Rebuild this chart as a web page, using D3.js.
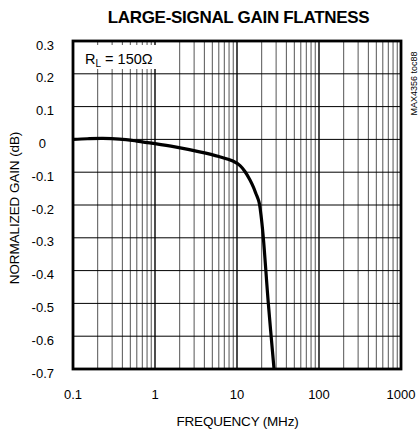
<!DOCTYPE html>
<html><head><meta charset="utf-8">
<script src="https://cdn.jsdelivr.net/npm/d3@7"></script>
<style>body{margin:0;background:#fff}svg{display:block;font-family:"Liberation Sans",Arial,sans-serif}</style>
</head><body><svg id="c" width="419" height="429"></svg>
<script>
const freqMHz = [0.1, 0.15, 0.23, 0.37, 0.6, 1, 1.75, 3.5, 6, 8.9, 10.9, 12.5, 14.4, 15.8, 17, 18.5, 19.6, 20.9, 24.1, 28.3];
const gainDb  = [0, 0.002, 0.003, 0.001, -0.005, -0.013, -0.023, -0.038, -0.052, -0.066, -0.08, -0.098, -0.124, -0.145, -0.165, -0.19, -0.23, -0.297, -0.5, -0.7];
const xTicks = [0.1, 1, 10, 100, 1000];
const xTickLabels = ["0.1", "1", "10", "100", "1000"];
const yTicks = [0.3, 0.2, 0.1, 0, -0.1, -0.2, -0.3, -0.4, -0.5, -0.6, -0.7];
const yTickLabels = ["0.3", "0.2", "0.1", "0", "-0.1", "-0.2", "-0.3", "-0.4", "-0.5", "-0.6", "-0.7"];

const svg = d3.select("#c");
const L = 73, R = 401, T = 41, B = 369;
const x = d3.scaleLog().domain([0.1, 1000]).range([L, R]);
const y = d3.scaleLinear().domain([-0.7, 0.3]).range([B, T]);

// minor vertical grid
const minors = [];
for (let d = 0.1; d < 1000; d *= 10) for (let k = 2; k <= 9; k++) minors.push(d * k);
svg.append("g").selectAll("line").data(minors).join("line")
  .attr("x1", d => x(d)).attr("x2", d => x(d)).attr("y1", T).attr("y2", B)
  .attr("stroke", "#555").attr("stroke-width", 1);
// major vertical grid
svg.append("g").selectAll("line").data(xTicks.slice(1, -1)).join("line")
  .attr("x1", d => x(d)).attr("x2", d => x(d)).attr("y1", T).attr("y2", B)
  .attr("stroke", "#000").attr("stroke-width", 1.4);
// horizontal grid
svg.append("g").selectAll("line").data(yTicks.slice(1, -1)).join("line")
  .attr("x1", L).attr("x2", R).attr("y1", d => y(d)).attr("y2", d => y(d))
  .attr("stroke", "#000").attr("stroke-width", 1);

// legend backdrop
svg.append("rect").attr("x", L + 1).attr("y", 45).attr("width", 85).attr("height", 24).attr("fill", "#fff");
const lg = svg.append("text").attr("x", 85).attr("y", 64).attr("font-size", 14.5).attr("fill", "#000");
lg.append("tspan").text("R");
lg.append("tspan").attr("font-size", 10).attr("dy", 3).text("L");
lg.append("tspan").attr("dy", -3).text(" = 150Ω");

// curve
const pts = freqMHz.map((f, i) => [f, gainDb[i]]);
svg.append("path").datum(pts)
  .attr("d", d3.line().x(d => x(d[0])).y(d => y(d[1])).curve(d3.curveCatmullRom.alpha(0.5)))
  .attr("fill", "none").attr("stroke", "#000").attr("stroke-width", 3.2).attr("stroke-linejoin", "round");

// border
svg.append("rect").attr("x", L).attr("y", T).attr("width", R - L).attr("height", B - T)
  .attr("fill", "none").attr("stroke", "#000").attr("stroke-width", 2.8);

// x tick labels
svg.append("g").selectAll("text").data(xTicks).join("text")
  .attr("x", d => x(d)).attr("y", 399).attr("text-anchor", "middle")
  .attr("font-size", 13).text((d, i) => xTickLabels[i]);
// y tick labels
svg.append("g").selectAll("text").data(yTicks).join("text")
  .attr("x", 54).attr("y", d => y(d) + 8.5).attr("text-anchor", "end")
  .attr("dx", (d, i) => yTickLabels[i] === "0" ? -8 : 0)
  .attr("font-size", 13).text((d, i) => yTickLabels[i]);

svg.append("text").attr("x", 238.5).attr("y", 23).attr("text-anchor", "middle")
  .attr("font-size", 17).attr("font-weight", "bold").attr("letter-spacing", -0.3).text("LARGE-SIGNAL GAIN FLATNESS");
svg.append("text").attr("x", 237.5).attr("y", 426).attr("text-anchor", "middle")
  .attr("font-size", 13.5).attr("letter-spacing", -0.2).text("FREQUENCY (MHz)");
svg.append("text").attr("transform", "translate(19,208) rotate(-90)").attr("text-anchor", "middle")
  .attr("font-size", 13.5).attr("letter-spacing", -0.1).text("NORMALIZED GAIN (dB)");
svg.append("text").attr("transform", "translate(417,83.5) rotate(-90)").attr("text-anchor", "middle")
  .attr("font-size", 9).text("MAX4356 toc88");
</script></body></html>
